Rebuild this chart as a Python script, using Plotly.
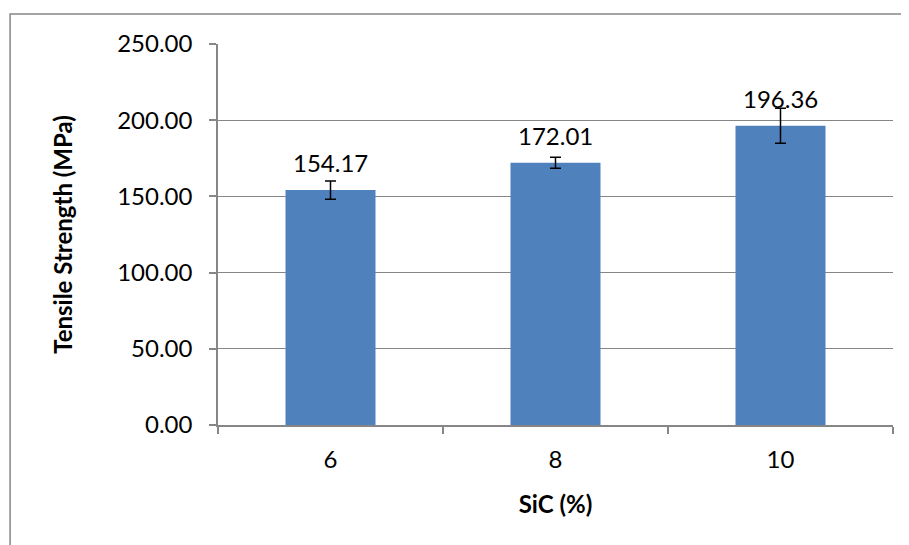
import plotly.graph_objects as go

categories = ["6", "8", "10"]
strength = [154.17, 172.01, 196.36]
errors = [6.0, 3.6, 11.5]
labels = ["154.17", "172.01", "196.36"]
y_ticks = [0, 50, 100, 150, 200, 250]
y_tick_text = ["0.00", "50.00", "100.00", "150.00", "200.00", "250.00"]

FONT = "Lato, Open Sans, sans-serif"
GRID = "#868686"
FS = 24

fig = go.Figure()
fig.add_trace(go.Bar(
    x=categories, y=strength,
    marker=dict(color="#4F81BD", line=dict(width=0)),
    error_y=dict(type="data", array=errors, visible=True,
                 color="black", thickness=1.5, width=5.5),
    showlegend=False,
))

for i, (v, t) in enumerate(zip(strength, labels)):
    fig.add_annotation(x=i, y=v, xref="x", yref="y", text=t, showarrow=False,
                       yanchor="bottom", yshift=11,
                       font=dict(family=FONT, size=FS, color="black"))

fig.update_layout(
    width=909, height=545,
    margin=dict(l=210, r=24, t=36, b=128),
    paper_bgcolor="white", plot_bgcolor="white",
    bargap=0.6,
    font=dict(family=FONT, size=FS, color="black"),
    shapes=[dict(type="rect", xref="paper", yref="paper",
                 x0=-0.308, x1=1.2, y0=-0.6, y1=1.0787,
                 line=dict(color=GRID, width=1.5), layer="below")],
)
fig.update_xaxes(
    type="category", range=[-0.5, 2.5], autorange=False,
    showline=True, linecolor=GRID, linewidth=1.5,
    ticks="outside", tickson="boundaries", ticklen=7, tickcolor=GRID, tickwidth=1.5,
    ticklabelstandoff=12,
    showgrid=False,
    tickfont=dict(family=FONT, size=FS, color="black"),
    title=dict(text="<b>SiC (%)</b>", standoff=25,
               font=dict(family=FONT, size=FS, color="black")),
)
fig.update_yaxes(
    range=[0, 250], autorange=False, tickvals=y_ticks, ticktext=y_tick_text,
    showline=True, linecolor=GRID, linewidth=1.5,
    ticks="outside", ticklen=7, tickcolor=GRID, tickwidth=1.5,
    ticklabelstandoff=12,
    showgrid=True, gridcolor=GRID, gridwidth=1,
    zeroline=False,
    tickfont=dict(family=FONT, size=FS, color="black"),
    title=dict(text="<b>Tensile Strength (MPa)</b>", standoff=38,
               font=dict(family=FONT, size=FS, color="black")),
)

fig.write_html("out.html")
